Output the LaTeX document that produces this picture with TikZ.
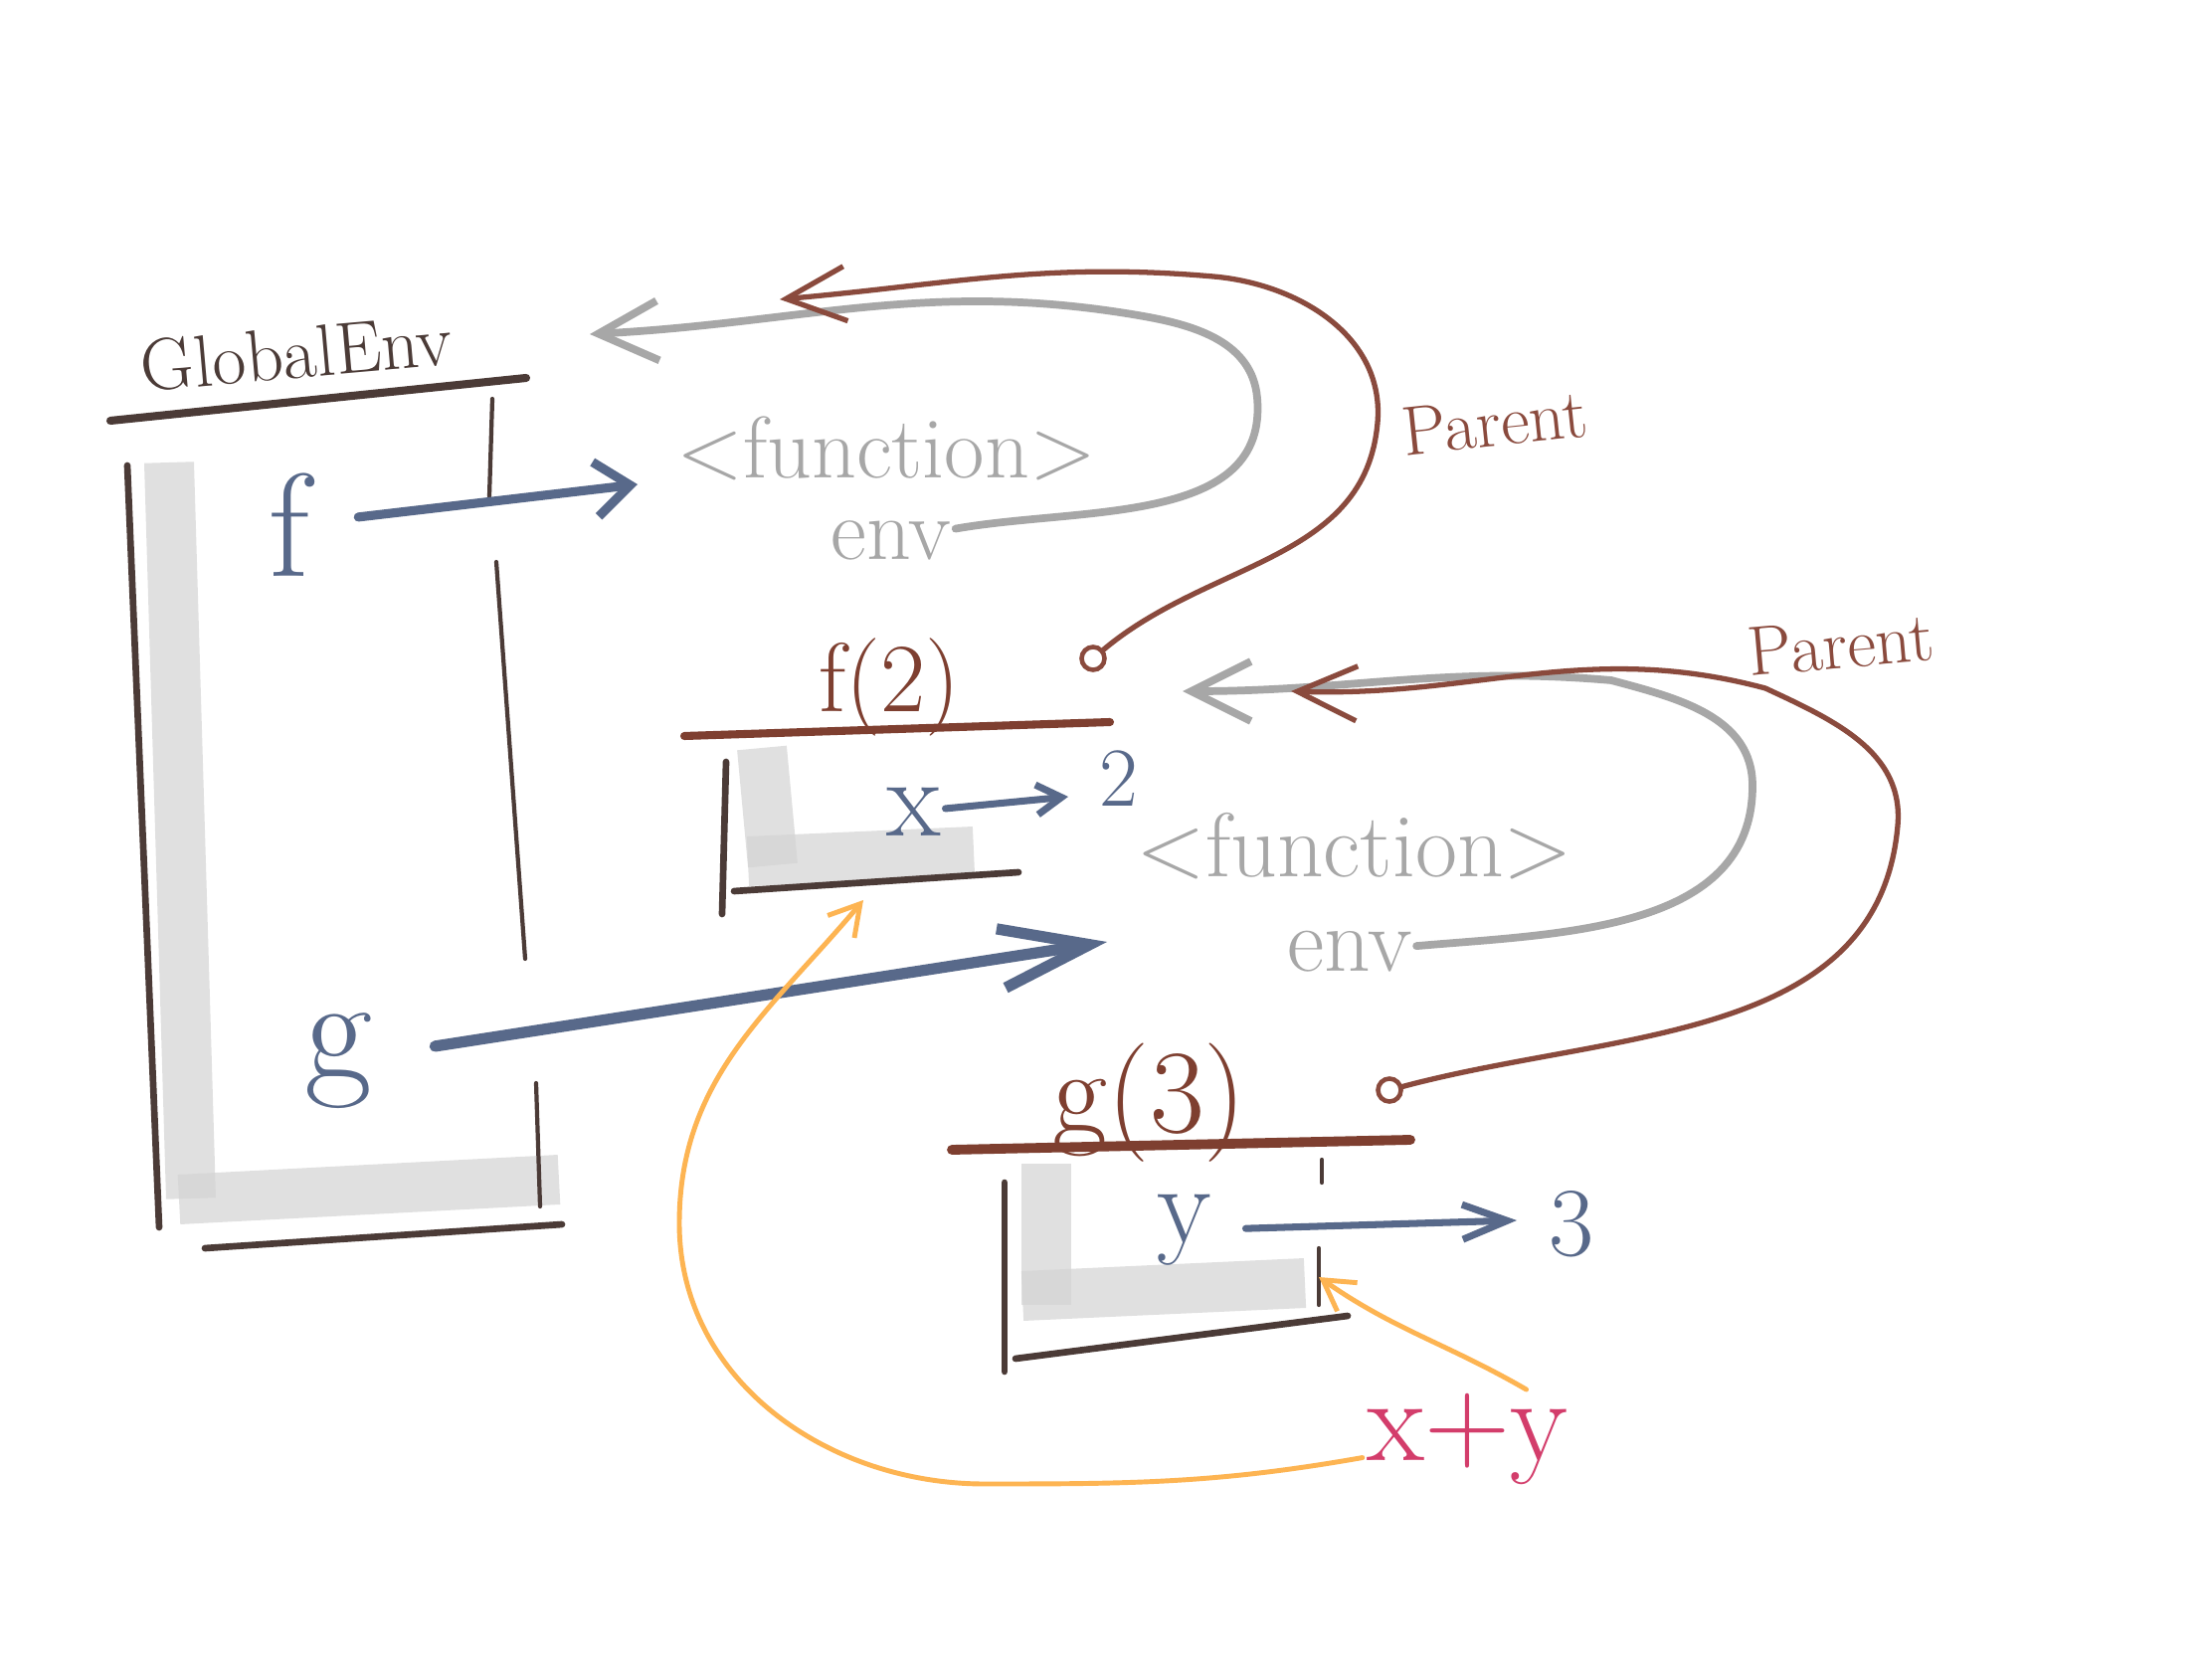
\documentclass[tikz,border=0pt]{standalone}
\usetikzlibrary{arrows.meta}

\definecolor{framebrown}{HTML}{4B3B37}
\definecolor{redbrown}{HTML}{7E3F30}
\definecolor{parentbrown}{HTML}{8A4A3D}
\definecolor{bindblue}{HTML}{58698A}
\definecolor{fungray}{HTML}{A7A7A7}
\definecolor{shadegray}{HTML}{D4D4D4}
\definecolor{evalorange}{HTML}{FDB452}
\definecolor{exprpink}{HTML}{D33D6B}

\tikzset{
  txt/.style={font=\fontsize{#1}{#1}\selectfont, inner sep=1pt},
  shadowband/.style={shadegray, line width=5mm, opacity=0.7},
  frameline/.style={framebrown, line width=1.9pt, line cap=round},
  sideline/.style={framebrown, line width=1.2pt, line cap=round},
  headline/.style={line width=2.3pt, line cap=round},
  bindarrow/.style={bindblue, line width=2.6pt, line cap=round, -{Straight Barb[length=3.5mm, width=5.5mm]}},
  envarrow/.style={fungray, line width=2.2pt, line cap=round, -{Straight Barb[length=6mm, width=6mm]}},
  parentarrow/.style={parentbrown, line width=1.5pt, line cap=round, -{Straight Barb[length=6mm, width=5.5mm]}},
  evalarrow/.style={evalorange, line width=1.4pt, line cap=round, -{Straight Barb[length=3mm, width=3.5mm]}},
  slot/.style={circle, draw=parentbrown, line width=1.3pt, minimum size=2.3mm, inner sep=0pt}
}

\begin{document}
\begin{tikzpicture}[x=0.1mm, y=-0.1mm]
\fill[white] (0,0) rectangle (2224,1668);
\useasboundingbox (0,0) rectangle (2224,1668);

% shadows
\draw[shadowband] (170,465) -- (192,1205);
\draw[shadowband] (180,1206) -- (562,1186);
\draw[shadowband] (766,752) -- (777,870);
\draw[shadowband] (752,866) -- (979,856);
\draw[shadowband] (1052,1170) -- (1052,1312);
\draw[shadowband] (1028,1303) -- (1312,1290);

% global frame
\node[txt=21, text=framebrown, rotate=5] (global) at (298,355) {GlobalEnv};
\draw[headline, framebrown] (111,423) -- (529,380);
\draw[frameline] (128,468) -- (160,1234);
\draw[frameline] (206,1255) -- (565,1231);
\draw[sideline] (495,401) -- (492,499);
\draw[sideline] (499,565) -- (528,964);
\draw[sideline] (539,1089) -- (543,1213);

\node[txt=42, text=bindblue] (f) at (291,528) {f};
\node[txt=42, text=bindblue] (g) at (340,1067) {g};

% function values
\node[txt=25, text=fungray] (fun1) at (891,451) {<function>};
\node[txt=25, text=fungray] (env1) at (896,543) {env};
\node[txt=26, text=fungray] (fun2) at (1362,851) {<function>};
\node[txt=26, text=fungray] (env2) at (1357,957) {env};

% f(2) frame
\node[txt=28, text=redbrown] (fcall) at (894,691) {f(2)};
\draw[headline, redbrown] (688,740) -- (1116,726);
\draw[frameline] (730,766) -- (726,919);
\draw[frameline] (738,896) -- (1024,877);
\node[slot] (slot1) at (1099,662) {};
\node[txt=32, text=bindblue] (x) at (919,816) {x};
\node[txt=24, text=bindblue] (two) at (1125,783) {2};

% g(3) frame
\node[txt=34, text=redbrown] (gcall) at (1156,1109) {g(3)};
\draw[headline, redbrown, line width=2.8pt] (957,1156) -- (1418,1146);
\draw[frameline] (1010,1189) -- (1010,1379);
\draw[frameline] (1021,1366) -- (1355,1323);
\draw[sideline] (1329,1166) -- (1329,1189);
\draw[sideline] (1326,1255) -- (1326,1312);
\node[slot] (slot2) at (1397,1096) {};
\node[txt=32, text=bindblue] (y) at (1191,1237) {y};
\node[txt=28, text=bindblue] (three) at (1580,1231) {3};

\node[txt=34, text=exprpink] (xy) at (1475,1447) {x+y};

\node[txt=20, text=parentbrown, rotate=6] (par1) at (1503,425) {Parent};
\node[txt=20, text=parentbrown, rotate=5] (par2) at (1851,648) {Parent};

% arrow ends
\coordinate (ftip) at (641,487);
\coordinate (gtip) at (1113,947);
\coordinate (xtip) at (1074,801);
\coordinate (ytip) at (1525,1227);
\coordinate (gray1) at (593,336);
\coordinate (gray2) at (1189,695);
\coordinate (up1) at (784,301);
\coordinate (up2) at (1298,695);
\coordinate (look1) at (868,905);
\coordinate (look2) at (1326,1284);

% bindings
\draw[bindarrow, shorten <=4.5mm] (f) -- (ftip);
\draw[bindarrow, line width=3.2pt, -{Straight Barb[length=9mm, width=6mm]}, shorten <=6mm] (g) -- (gtip);
\draw[bindarrow, line width=2pt, -{Straight Barb[length=2.5mm, width=3mm]}] (x) -- (xtip);
\draw[bindarrow, line width=2pt, -{Straight Barb[length=4.5mm, width=3.5mm]}, shorten <=3mm] (y) -- (ytip);

% env pointers
\draw[envarrow] (env1) to[out=10,in=-85] (1264,400) to[out=95,in=-10] (1150,318) to[out=170,in=3] (gray1);
\draw[envarrow] (env2) to[out=5,in=-90] (1762,790) to[out=90,in=-15] (1620,684) to[out=175,in=0] (gray2);

% parents
\draw[parentarrow] (slot1) to[out=40,in=-95] (1385,425) to[out=85,in=-5] (1220,278) to[out=175,in=5] (up1);
\draw[parentarrow] (slot2) to[out=15,in=-95] (1908,830) to[out=85,in=-25] (1775,692) to[out=165,in=-2] (up2);

% lookups
\draw[evalarrow] (xy) to[out=190,in=0] (990,1492) to[out=180,in=-90] (683,1230) to[out=90,in=-130] (look1);
\draw[evalarrow] (xy.40) to[out=150,in=-35] (look2);
\end{tikzpicture}
\end{document}
